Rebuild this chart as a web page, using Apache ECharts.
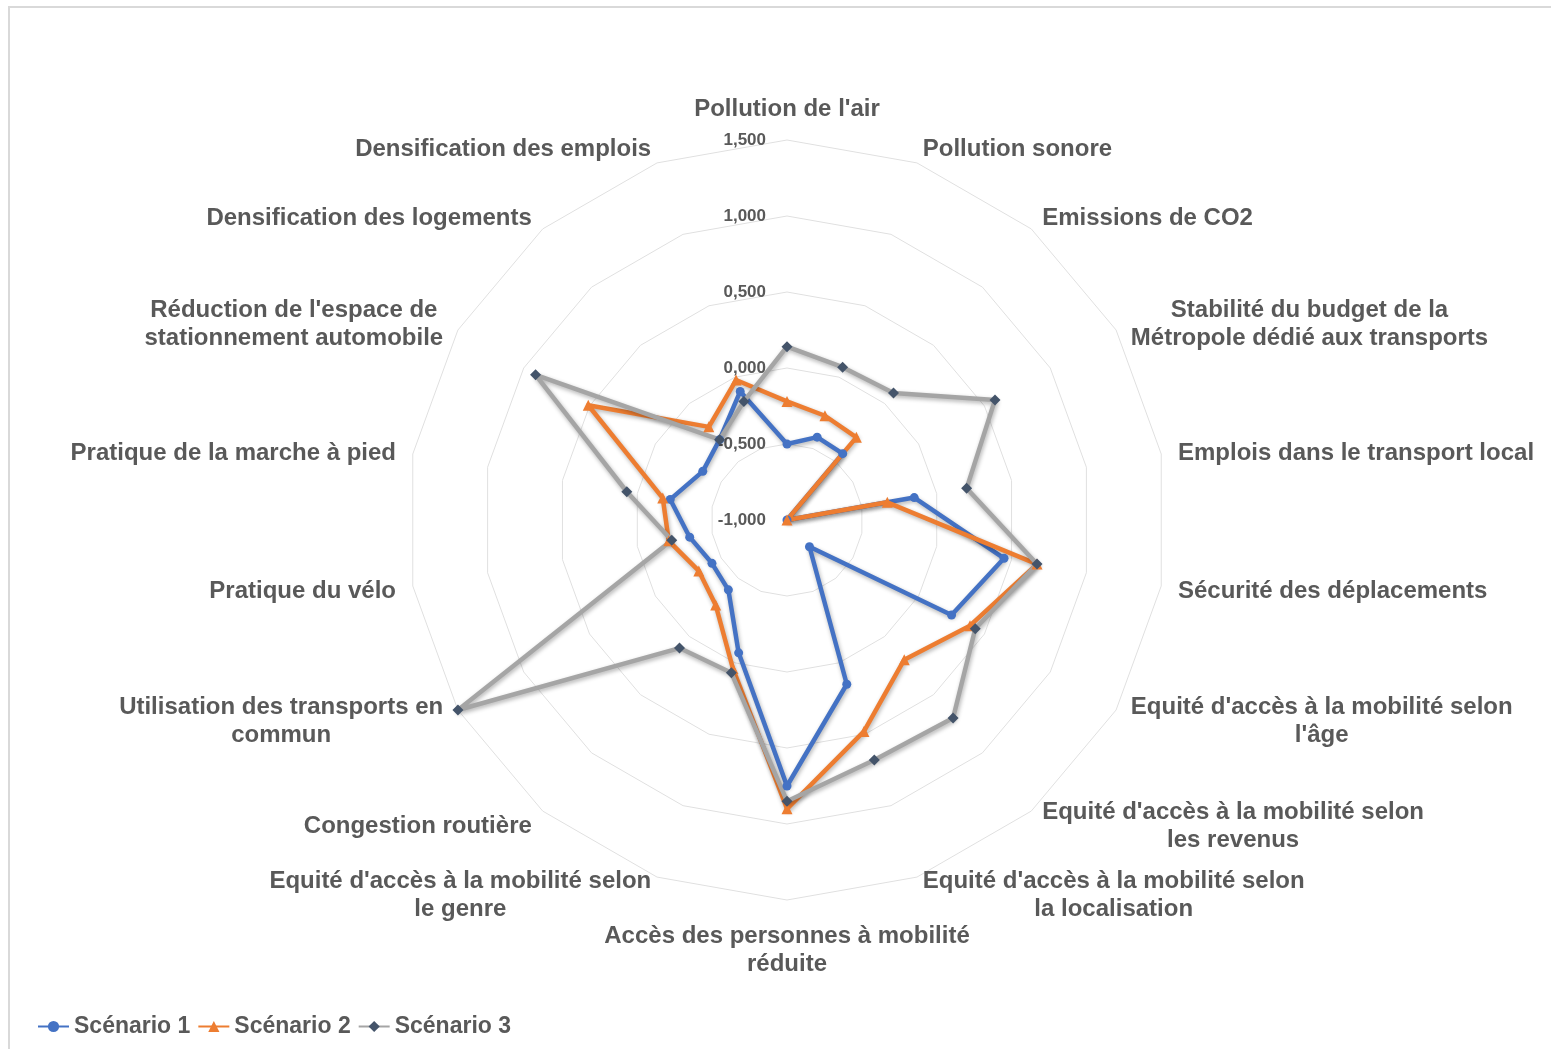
<!DOCTYPE html>
<html>
<head>
    <meta charset="UTF-8">
    <title>Scénarios</title>
    <script src="https://cdn.jsdelivr.net/npm/echarts@6/dist/echarts.min.js"></script>
    <style>
        html, body { margin: 0; padding: 0; background: #fff; overflow: hidden; }
        #main { position: absolute; left: 0; top: 0; width: 1551px; height: 1049px; }
        #cadre { position: absolute; left: 8px; top: 6px; width: 1600px; height: 1100px;
                 border: 2px solid #d9d9d9; pointer-events: none; }
    </style>
</head>
<body>
<div id="cadre"></div>
<div id="main"></div>
<script type="text/javascript">
    // indicateurs, dans le sens horaire à partir du haut
    var indicateurs = [
        "Pollution de l'air",
        "Pollution sonore",
        "Emissions de CO2",
        "Stabilité du budget de la\nMétropole dédié aux transports",
        "Emplois dans le transport local",
        "Sécurité des déplacements",
        "Equité d'accès à la mobilité selon\nl'âge",
        "Equité d'accès à la mobilité selon\nles revenus",
        "Equité d'accès à la mobilité selon\nla localisation",
        "Accès des personnes à mobilité\nréduite",
        "Equité d'accès à la mobilité selon\nle genre",
        "Congestion routière",
        "Utilisation des transports en\ncommun",
        "Pratique du vélo",
        "Pratique de la marche à pied",
        "Réduction de l'espace de\nstationnement automobile",
        "Densification des logements",
        "Densification des emplois"
    ];
    var scenarios = ['Scénario 1', 'Scénario 2', 'Scénario 3'];
    var scenario1 = [-0.50, -0.42, -0.43, -1.00, -0.15, 0.45, 0.25, -0.77, 0.15, 0.75,
                     -0.07, -0.40, -0.43, -0.35, -0.22, -0.36, -0.31, -0.10];
    var scenario2 = [-0.22, -0.27, -0.29, -1.00, -0.33, 0.67, 0.39, 0.20, 0.48, 0.90,
                     0.04, -0.27, -0.33, -0.21, -0.17, 0.51, -0.20, -0.02];
    var scenario3 = [0.14, 0.07, 0.09, 0.58, 0.20, 0.67, 0.43, 0.70, 0.68, 0.85,
                     0.07, 0.10, 1.50, -0.23, 0.07, 0.91, -0.31, -0.17];
    var axeMin = -1, axeMax = 1.5;

    var couleursLigne = ['#4472C4', '#ED7D31', '#A5A5A5'];
    var couleursMarque = ['#4472C4', '#ED7D31', '#44546A'];
    var symboles = ['circle', 'triangle', 'diamond'];
    var taillesSymbole = [9, 11, 11];

    // echarts place les axes du radar dans le sens anti-horaire : on inverse
    function horaire(arr) {
        return [arr[0]].concat(arr.slice(1).reverse());
    }

    var texte = '#595959';
    var police = '"Liberation Sans", Arial, sans-serif';

    var myChart = echarts.init(document.getElementById('main'));

    var series = [];
    // séries vides : seulement pour l'icône de légende (trait + marqueur)
    scenarios.forEach(function (nom, i) {
        series.push({
            name: nom,
            type: 'line',
            data: [],
            symbol: symboles[i],
            symbolSize: taillesSymbole[i],
            lineStyle: {color: couleursLigne[i], width: 4},
            itemStyle: {color: couleursMarque[i]}
        });
    });
    [scenario1, scenario2, scenario3].forEach(function (vals, i) {
        series.push({
            name: scenarios[i],
            type: 'radar',
            symbol: symboles[i],
            symbolSize: taillesSymbole[i],
            lineStyle: {
                color: couleursLigne[i],
                width: 4.5,
                shadowColor: 'rgba(0,0,0,0.3)',
                shadowBlur: 4,
                shadowOffsetX: 1,
                shadowOffsetY: 2
            },
            itemStyle: {color: couleursMarque[i]},
            data: [{name: scenarios[i], value: horaire(vals)}]
        });
    });

    var option = {
        animation: false,
        backgroundColor: 'transparent',
        grid: {show: false, left: -200, top: -200, width: 10, height: 10},
        xAxis: {type: 'category', show: false, data: []},
        yAxis: {type: 'value', show: false},
        legend: {
            data: scenarios,
            left: 32,
            top: 1010,
            itemWidth: 31,
            itemHeight: 14,
            itemGap: 7,
            textStyle: {color: texte, fontSize: 23, fontWeight: 'bold', fontFamily: police}
        },
        radar: {
            center: [787, 520],
            radius: 380,
            startAngle: 90,
            shape: 'polygon',
            splitNumber: 5,
            nameGap: 17,
            indicator: horaire(indicateurs).map(function (n, i) {
                var ind = {name: n, min: axeMin, max: axeMax};
                if (i === 0) {
                    ind.axisLabel = {show: true};
                }
                return ind;
            }),
            axisName: {
                color: texte,
                fontSize: 24,
                fontWeight: 'bold',
                fontFamily: police,
                lineHeight: 28,
                padding: [5, 0, 0, 0],
                formatter: function (name) {
                    return name.split('\n').map(function (l) {
                        return '{c|' + l + '}';
                    }).join('\n');
                },
                rich: {
                    c: {align: 'center', color: texte, fontSize: 24, fontWeight: 'bold',
                        fontFamily: police, lineHeight: 28}
                }
            },
            axisLine: {show: false},
            axisTick: {show: false},
            axisLabel: {
                show: false,
                margin: 21,
                color: texte,
                fontSize: 17,
                fontWeight: 'bold',
                fontFamily: police,
                formatter: function (v) {
                    return v.toFixed(3).replace('.', ',');
                }
            },
            splitLine: {lineStyle: {color: '#e0e0e0', width: 1}},
            splitArea: {show: false}
        },
        series: series
    };
    myChart.setOption(option);
</script>
</body>
</html>
